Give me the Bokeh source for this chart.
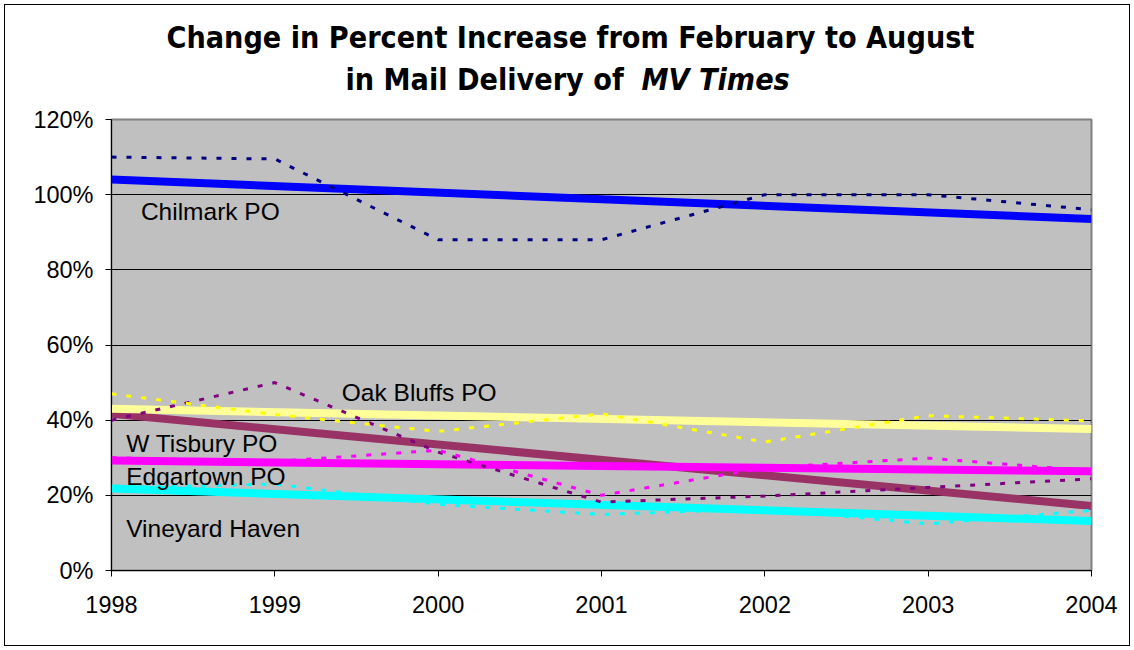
import numpy as np
from bokeh.plotting import figure
from bokeh.layouts import column
from bokeh.models import Label, FixedTicker, PrintfTickFormatter, Range1d
from bokeh.core.properties import value
from bokeh.embed import file_html
from bokeh.resources import INLINE

# ---- data (percent increase) ----
years = [1998, 1999, 2000, 2001, 2002, 2003, 2004]
chilmark = [110, 109.5, 88, 88, 100, 100, 96]
oak_bluffs = [47, 41.5, 37, 41.7, 34.2, 41.2, 39.8]
w_tisbury = [40, 50, 31.5, 18.2, 19.8, 22.1, 24.4]
edgartown = [30, 29, 32, 20, 27.3, 29.9, 26.5]
vineyard_haven = [22, 23, 17.6, 14.9, 16.4, 12.4, 16]
y_ticks = [0, 20, 40, 60, 80, 100, 120]

title_line1 = "Change in Percent Increase from February to August"
title_line2a = "in Mail Delivery of"
title_line2b = "MV Times"

series = [
    ("Chilmark PO", chilmark, "#000080", "#0000FF"),
    ("W Tisbury PO", w_tisbury, "#800080", "#993366"),
    ("Oak Bluffs PO", oak_bluffs, "#FFFF00", "#FFFF99"),
    ("Edgartown PO", edgartown, "#FF00FF", "#FF00FF"),
    ("Vineyard Haven", vineyard_haven, "#00FFFF", "#00FFFF"),
]

FONT = "Liberation Sans"
TFONT = "DejaVu Sans Condensed, Liberation Sans"
TOP_H = 99
LEFT, RIGHT = 111, 43

# ---------- title strip (its frame is aligned with the chart frame) ----------
tf = figure(width=1134, height=TOP_H, output_backend="svg", toolbar_location=None,
            x_range=Range1d(LEFT, 1134 - RIGHT), y_range=Range1d(TOP_H, 0),
            x_axis_type=None, y_axis_type=None, min_border=0,
            min_border_left=LEFT, min_border_right=RIGHT)
tf.background_fill_color = None
tf.border_fill_color = None
tf.outline_line_color = None
tf.grid.grid_line_color = None
tf.text(x=[166], y=[37], text=[title_line1], text_font=value(TFONT),
        text_font_style="bold", text_font_size="30.2px", text_align="left",
        text_baseline="middle", text_color="black")
tf.text(x=[345], y=[79], text=[title_line2a], text_font=value(TFONT),
        text_font_style="bold", text_font_size="30.2px", text_align="left",
        text_baseline="middle", text_color="black")
tf.text(x=[641], y=[79], text=[title_line2b], text_font=value(TFONT),
        text_font_style="bold italic", text_font_size="30.2px", text_align="left",
        text_baseline="middle", text_color="black")

# ---------- chart ----------
p = figure(width=1134, height=650 - TOP_H, output_backend="svg", toolbar_location=None,
           x_range=Range1d(years[0], years[-1]), y_range=Range1d(0, 120),
           min_border_left=LEFT, min_border_right=RIGHT, min_border_top=119 - TOP_H,
           min_border_bottom=80)

p.background_fill_color = "#C0C0C0"
p.border_fill_color = None
p.outline_line_color = "#808080"
p.outline_line_width = 2

p.xgrid.grid_line_color = None
p.ygrid.grid_line_color = "black"
p.ygrid.grid_line_width = 1
p.ygrid.ticker = FixedTicker(ticks=y_ticks)

p.xaxis.ticker = FixedTicker(ticks=years)
p.xaxis.formatter = PrintfTickFormatter(format="%d")
p.yaxis.ticker = FixedTicker(ticks=y_ticks)
p.yaxis.formatter = PrintfTickFormatter(format="%d%%")
for ax in (p.xaxis[0], p.yaxis[0]):
    ax.axis_line_color = "black"
    ax.axis_line_width = 1
    ax.major_tick_line_color = "black"
    ax.major_tick_in = 0
    ax.major_tick_out = 6
    ax.minor_tick_line_color = None
    ax.major_label_text_font = FONT
    ax.major_label_text_font_size = "23.5px"
    ax.major_label_text_color = "black"
p.xaxis.major_label_standoff = 19
p.yaxis.major_label_standoff = 12

# trend lines (linear least squares, like the spreadsheet trendline)
xs = np.array(years, dtype=float)
for name, vals, dcol, tcol in series:
    k, b = np.polyfit(xs, np.array(vals, dtype=float), 1)
    p.line([xs[0], xs[-1]], [k * xs[0] + b, k * xs[-1] + b], line_color=tcol,
           line_width=8)

# data lines (dotted)
for name, vals, dcol, tcol in series:
    p.line(years, vals, line_color=dcol, line_width=3, line_dash="5 10")

# series labels
lab_pos = {
    "Chilmark PO": (1998.18, 95.5),
    "Oak Bluffs PO": (1999.41, 47.3),
    "W Tisbury PO": (1998.09, 33.7),
    "Edgartown PO": (1998.09, 25.1),
    "Vineyard Haven": (1998.09, 11.2),
}
for name, (lx, ly) in lab_pos.items():
    p.add_layout(Label(x=lx, y=ly, text=name, text_font=FONT,
                       text_font_size="24.5px", text_color="black",
                       text_baseline="middle", text_align="left"))

layout = column(tf, p, spacing=0)
layout.styles = {"background-color": "white",
                 "box-shadow": "inset 0 0 0 4px white, inset 0 0 0 5px black"}

open("out.html", "w").write(file_html(layout, INLINE))
